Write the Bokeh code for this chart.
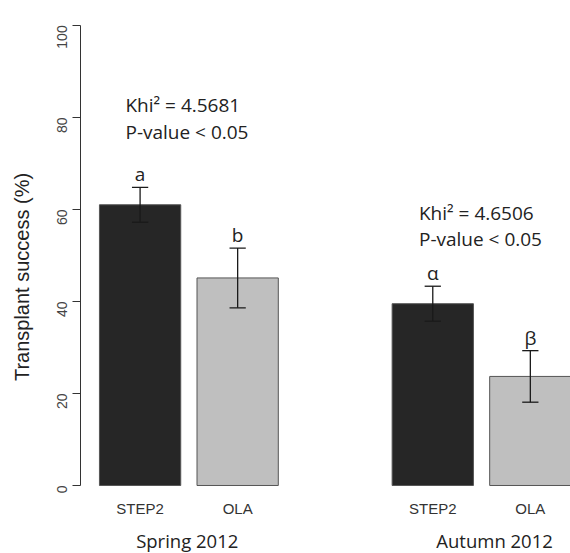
import math
from bokeh.plotting import figure
from bokeh.models import Range1d, FixedTicker, LinearAxis
from bokeh.core.properties import value
from bokeh.embed import file_html
from bokeh.resources import INLINE

# ---- data ----
seasons = ["Spring 2012", "Autumn 2012"]
varieties = ["STEP2", "OLA", "STEP2", "OLA"]
success = [61.0, 45.1, 39.5, 23.7]
errors = [3.8, 6.5, 3.8, 5.6]
letters = ["a", "b", "α", "β"]
khi2 = ["4.5681", "4.6506"]
pvalues = ["< 0.05", "< 0.05"]
y_ticks = [0, 20, 40, 60, 80, 100]

# ---- layout (R barplot style: width 1, spaces before each bar) ----
spaces = [0.2, 0.2, 1.4, 0.2]
bar_w = 1.0
x_pos = []
edge = 0.0
for s in spaces:
    edge += s
    x_pos.append(round(edge + bar_w / 2, 2))
    edge += bar_w
season_pos = [1.28, 5.06]
variety_label_y = -5.0
season_label_y = -11.9
stat_pos_x = [0.52, 4.13]
stat_pos_y = [82.6, 59.3]
line_gap = 5.7
letter_gap = 2.85

fills = {"STEP2": "#262626", "OLA": "#bfbfbf"}
bar_colors = [fills[v] for v in varieties]
lo = [s - e for s, e in zip(success, errors)]
hi = [s + e for s, e in zip(success, errors)]

p = figure(width=570, height=553, x_range=Range1d(-0.033, 5.994), y_range=Range1d(-14.78, 105.39),
           output_backend="svg", toolbar_location=None, x_axis_type=None, y_axis_type=None,
           min_border_left=80, min_border_right=0, min_border_top=0, min_border_bottom=0)
p.outline_line_color = None
p.background_fill_color = "white"

# y axis (line, ticks, labels limited to 0..100)
yax = LinearAxis(ticker=FixedTicker(ticks=y_ticks), bounds=(0, 100))
yax.axis_line_color = "#333333"
yax.major_tick_line_color = "#333333"
yax.major_tick_out = 8
yax.major_tick_in = 0
yax.minor_tick_line_color = None
yax.major_label_orientation = math.pi / 2
yax.major_label_standoff = 10
yax.major_label_text_font = "Liberation Sans"
yax.major_label_text_font_size = "14px"
yax.major_label_text_color = "#444444"
p.add_layout(yax, "left")

# y axis title (separate bare axis so the title can be centred like the reference)
tax = LinearAxis(ticker=FixedTicker(ticks=[]), bounds=(-3.4, 100),
                 axis_label="Transplant success (%)")
tax.axis_line_color = None
tax.major_tick_line_color = None
tax.minor_tick_line_color = None
tax.major_label_text_font_size = "0px"
tax.axis_label_standoff = 17
tax.axis_label_text_font = "Liberation Sans"
tax.axis_label_text_font_style = "normal"
tax.axis_label_text_font_size = "20px"
tax.axis_label_text_color = "#222222"
p.add_layout(tax, "left")

# bars
p.vbar(x=x_pos, top=success, bottom=0, width=bar_w, fill_color=bar_colors,
       line_color="#555555", line_width=1)

# error bars
p.segment(x0=x_pos, y0=lo, x1=x_pos, y1=hi, line_color="#1a1a1a", line_width=1.3)
cap = 0.1
p.segment(x0=[x - cap for x in x_pos], y0=hi, x1=[x + cap for x in x_pos], y1=hi,
          line_color="#1a1a1a", line_width=1.3)
p.segment(x0=[x - cap for x in x_pos], y0=lo, x1=[x + cap for x in x_pos], y1=lo,
          line_color="#1a1a1a", line_width=1.3)

# significance letters
p.text(x=x_pos, y=[h + letter_gap for h in hi], text=letters, text_align="center",
       text_baseline="middle", text_font=value("Open Sans"), text_font_size="19px",
       text_color="#222222")

# statistics
p.text(x=stat_pos_x, y=stat_pos_y, text=["Khi² = " + k for k in khi2],
       text_align="left", text_baseline="middle", text_font=value("Open Sans"),
       text_font_size="19px", text_color="#222222")
p.text(x=stat_pos_x, y=[y - line_gap for y in stat_pos_y], text=["P-value " + pv for pv in pvalues],
       text_align="left", text_baseline="middle", text_font=value("Open Sans"),
       text_font_size="19px", text_color="#222222")

# category labels under the bars
p.text(x=x_pos, y=[variety_label_y] * len(x_pos), text=varieties, text_align="center",
       text_baseline="middle", text_font=value("Liberation Sans"), text_font_size="15px",
       text_color="#333333")
p.text(x=season_pos, y=[season_label_y] * len(season_pos), text=seasons, text_align="center",
       text_baseline="middle", text_font=value("Open Sans"), text_font_size="18.5px",
       text_color="#222222")

open("out.html", "w").write(file_html(p, INLINE))
